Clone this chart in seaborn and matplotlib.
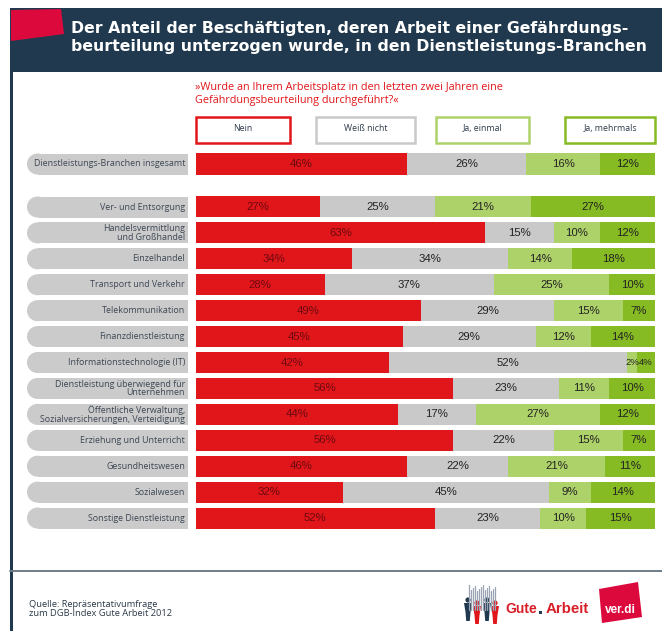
import matplotlib
matplotlib.use("Agg")
import matplotlib.pyplot as plt
from matplotlib.patches import Rectangle, Polygon, Circle
import pandas as pd
import seaborn as sns

sns.set_theme(style="white")
plt.rcParams['font.family'] = ['Liberation Sans', 'DejaVu Sans']

TITLE = "Der Anteil der Beschäftigten, deren Arbeit einer Gefährdungs-\nbeurteilung unterzogen wurde, in den Dienstleistungs-Branchen"
QUESTION = "»Wurde an Ihrem Arbeitsplatz in den letzten zwei Jahren eine\nGefährdungsbeurteilung durchgeführt?«"
SOURCE = "Quelle: Repräsentativumfrage\nzum DGB-Index Gute Arbeit 2012"
series_names = ["Nein", "Weiß nicht", "Ja, einmal", "Ja, mehrmals"]
series_colors = ["#e1161a", "#c9c9c9", "#aed26a", "#86bb24"]
legend_edges = ["#e1161a", "#c9c9c9", "#aed26a", "#86bb24"]

total_category = ["Dienstleistungs-Branchen insgesamt"]
total_nein = [46]
total_weiss = [26]
total_einmal = [16]
total_mehrmals = [12]

categories = [
    "Ver- und Entsorgung", "Handelsvermittlung\nund Großhandel", "Einzelhandel",
    "Transport und Verkehr", "Telekommunikation", "Finanzdienstleistung",
    "Informationstechnologie (IT)", "Dienstleistung überwiegend für\nUnternehmen",
    "Öffentliche Verwaltung,\nSozialversicherungen, Verteidigung",
    "Erziehung und Unterricht", "Gesundheitswesen", "Sozialwesen", "Sonstige Dienstleistung",
]
nein = [27, 63, 34, 28, 49, 45, 42, 56, 44, 56, 46, 32, 52]
weiss = [25, 15, 34, 37, 29, 29, 52, 23, 17, 22, 22, 45, 23]
einmal = [21, 10, 14, 25, 15, 12, 2, 11, 27, 15, 21, 9, 10]
mehrmals = [27, 12, 18, 10, 7, 14, 4, 10, 12, 7, 11, 14, 15]

W, H = 662, 631
fig = plt.figure(figsize=(W / 100, H / 100), dpi=100, facecolor="white")


def px_axes(x0, y0, x1, y1, **kw):
    return fig.add_axes([x0 / W, 1 - y1 / H, (x1 - x0) / W, (y1 - y0) / H], **kw)


# Furniture layer in pixel coordinates
bg = px_axes(0, 0, W, H, zorder=0)
bg.set_xlim(0, W)
bg.set_ylim(H, 0)
bg.axis("off")

NAVY = "#20394e"
bg.add_patch(Rectangle((10, 8), W - 10, 64, color=NAVY, lw=0))
bg.add_patch(Rectangle((10, 72), 2.5, H - 72, color=NAVY, lw=0))
bg.add_patch(Polygon([(11, 10), (61, 9), (64, 34), (11, 41)], color="#dc0a3c", lw=0))
bg.text(71, 37.5, TITLE, color="white", fontsize=11.35, fontweight="bold", va="center", ha="left",
        family=["DejaVu Sans"], linespacing=1.22)
bg.text(195, 94, QUESTION, color="#e1161a", fontsize=7.85, va="center", ha="left", linespacing=1.15,
        family=["Open Sans", "DejaVu Sans"])

legend_boxes = [(196, 290), (316, 415), (436, 529), (565, 655)]
for (x0, x1), nm, ec in zip(legend_boxes, series_names, legend_edges):
    bg.add_patch(Rectangle((x0, 117), x1 - x0, 26, fc="white", ec=ec, lw=1.8))
    bg.text((x0 + x1) / 2, 128.5, nm, fontsize=6.3, color="#2c3a48", ha="center", va="center",
            family=["Open Sans", "DejaVu Sans"])


def pill(cy, label):
    bg.add_patch(Rectangle((37.5, cy - 10.5), 150.5, 21, fc="#cbcbcb", ec="none"))
    bg.add_patch(Circle((37.5, cy), 10.5, fc="#cbcbcb", ec="none"))
    bg.text(185, cy, label, fontsize=6.4, color="#3d4754", ha="right", va="center", linespacing=0.95,
            family=["Open Sans", "DejaVu Sans"])


pill(164, total_category[0])
for i, c in enumerate(categories):
    pill(207 + i * 25.92, c)

bg.plot([10, W], [571, 571], color="#6d7c86", lw=1.4)
bg.text(29, 609, SOURCE, fontsize=6.7, color="#2c3a48", va="center", ha="left", linespacing=0.9,
        family=["Open Sans", "DejaVu Sans"])

# Logo
for k in range(14):
    bg.plot([469 + k * 2.0] * 2, [585 + (k * 5) % 7, 610], color="#9aa3b3", lw=0.9)
for cx, col, top in [(468, NAVY, 603), (477, "#e1161a", 606), (487, NAVY, 603), (495, "#e1161a", 606)]:
    bg.add_patch(Circle((cx, top - 3), 2.6, color=col, lw=0))
    bg.add_patch(Polygon([(cx - 4, top), (cx + 4, top), (cx + 2.5, top + 9), (cx + 1.8, top + 18),
                          (cx - 1.8, top + 18), (cx - 2.5, top + 9)], color=col, lw=0))
bg.text(505, 609, "Gute", color="#d81e28", fontsize=10, fontweight="bold", va="center", ha="left")
bg.add_patch(Rectangle((539, 611), 3, 3, color=NAVY, lw=0))
bg.text(546, 609, "Arbeit", color="#d81e28", fontsize=10.8, fontweight="bold", va="center", ha="left")
bg.add_patch(Polygon([(599, 589), (638, 582), (642, 617), (602, 623)], color="#dc0a3c", lw=0))
bg.text(620, 610, "ver.di", color="white", fontsize=8.5, fontweight="bold", va="center", ha="center")


def stacked(ax, cats, cols):
    df = pd.DataFrame(dict(zip(series_names, cols)), index=cats)
    cum = df.cumsum(axis=1)
    for name, colr in reversed(list(zip(series_names, series_colors))):
        sns.barplot(x=cum[name].values, y=cats, order=cats, orient="h", color=colr, saturation=1,
                    width=0.81, ax=ax, linewidth=0)
    for r, cat in enumerate(cats):
        left = 0
        for j, name in enumerate(series_names):
            v = df.loc[cat, name]
            ax.text(left + v / 2, r, f"{v}%", ha="center", va="center",
                    fontsize=6.8 if v < 5 else 8.2,
                    color="#6b0a10" if j == 0 else "#222222")
            left += v
    ax.set_xlim(0, 100)
    ax.set_ylim(len(cats) - 0.5, -0.5)
    ax.axis("off")
    ax.patch.set_alpha(0)


SCALE_X0, SCALE_X1 = 196, 655
top_ax = px_axes(SCALE_X0, 151, SCALE_X1, 177, zorder=2)
stacked(top_ax, total_category, [total_nein, total_weiss, total_einmal, total_mehrmals])
main_ax = px_axes(SCALE_X0, 194, SCALE_X1, 531, zorder=2)
stacked(main_ax, categories, [nein, weiss, einmal, mehrmals])

fig.savefig("out.png", dpi=100, facecolor="white")
